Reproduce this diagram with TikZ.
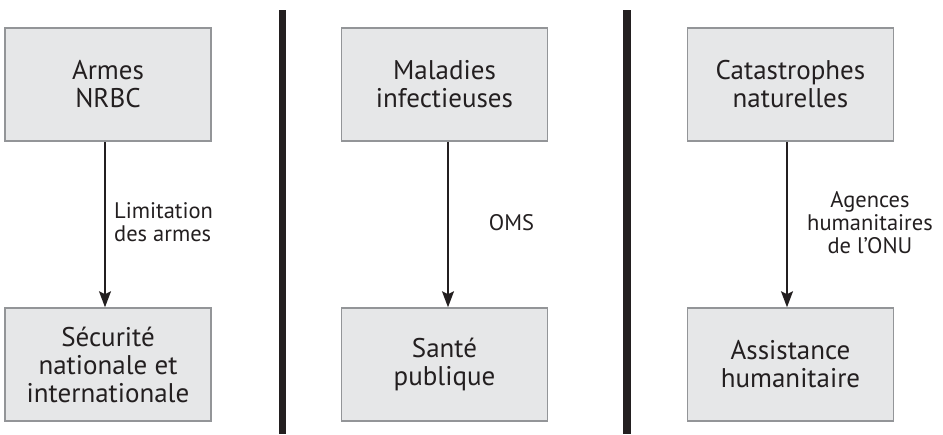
\documentclass[tikz,border=0pt]{standalone}
\usepackage{fontspec}
\setmainfont{PT Sans}
\usetikzlibrary{arrows.meta}
\definecolor{boxfill}{HTML}{E6E7E8}
\definecolor{boxline}{HTML}{939598}
\definecolor{ink}{HTML}{231F20}
\begin{document}
\begin{tikzpicture}[x=1pt,y=-1pt,
  box/.style={draw=boxline, line width=1.5pt, fill=boxfill, minimum width=206pt, minimum height=113pt,
    inner sep=0pt, align=center, text=ink, font=\fontsize{27}{28}\selectfont},
  lbl/.style={text=ink, inner sep=0pt, font=\fontsize{22.5}{23}\selectfont},
  conn/.style={draw=ink, line width=1.6pt, -{Stealth[length=16pt,width=12pt,inset=3pt]}},
  bar/.style={draw=ink, line width=7.5pt}]
\useasboundingbox (0,0) rectangle (943,434);
% separators
\coordinate (s1t) at (282.5,10); \coordinate (s1b) at (282.5,434);
\coordinate (s2t) at (627,10); \coordinate (s2b) at (627,434);
\draw[bar] (s1t) -- (s1b);
\draw[bar] (s2t) -- (s2b);
% column 1
\node[box] (a1) at (108,84.5) {Armes\\NRBC};
\node[box] (b1) at (108,364.5) {Sécurité\\nationale et\\internationale};
\draw[conn] ([xshift=-3pt]a1.south) -- ([xshift=-3pt]b1.north);
\node[lbl, anchor=west, align=left] (l1) at (114,222) {Limitation\\des armes};
% column 2
\node[box] (a2) at (444.5,84.5) {Maladies\\infectieuses};
\node[box] (b2) at (444.5,364.5) {Santé\\publique};
\draw[conn] ([xshift=3.5pt]a2.south) -- ([xshift=3.5pt]b2.north);
\node[lbl] (l2) at (511.5,223) {OMS};
% column 3
\node[box] (a3) at (790.5,84.5) {Catastrophes\\naturelles};
\node[box] (b3) at (790.5,364.5) {Assistance\\humanitaire};
\draw[conn] ([xshift=-3.5pt]a3.south) -- ([xshift=-3.5pt]b3.north);
\node[lbl, align=center] (l3) at (870,223) {Agences\\humanitaires\\de l’ONU};
\end{tikzpicture}
\end{document}
